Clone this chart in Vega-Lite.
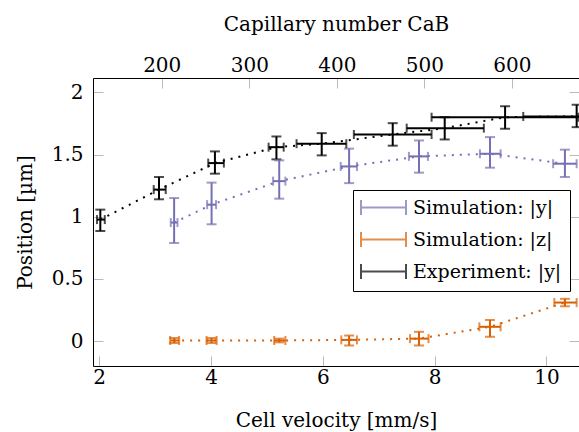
{
  "$schema": "https://vega.github.io/schema/vega-lite/v6.json",
  "width": 486,
  "height": 288,
  "autosize": "none",
  "padding": {"left": 93, "top": 78, "right": 0, "bottom": 66},
  "config": {
    "view": {"stroke": null},
    "font": "DejaVu Serif",
    "axis": {
      "labelFont": "DejaVu Serif", "labelFontSize": 20, "labelColor": "black",
      "titleFont": "DejaVu Serif", "titleFontSize": 20, "titleFontWeight": "normal", "titleColor": "black",
      "grid": false, "domainColor": "black", "domainWidth": 1, "tickColor": "#bbbbbb", "tickWidth": 1, "tickSize": -10
    },
    "legend": {
      "labelFont": "DejaVu Serif", "labelFontSize": 19, "labelColor": "black", "labelLimit": 400
    }
  },
  "datasets": {
    "pts": [
      {"s": "Simulation: |y|", "v": 3.34, "y": 0.953, "ylo": 0.789, "yhi": 1.15, "vlo": 3.28, "vhi": 3.40},
      {"s": "Simulation: |y|", "v": 4.01, "y": 1.097, "ylo": 0.939, "yhi": 1.274, "vlo": 3.93, "vhi": 4.09},
      {"s": "Simulation: |y|", "v": 5.22, "y": 1.286, "ylo": 1.145, "yhi": 1.453, "vlo": 5.11, "vhi": 5.33},
      {"s": "Simulation: |y|", "v": 6.47, "y": 1.404, "ylo": 1.27, "yhi": 1.547, "vlo": 6.32, "vhi": 6.61},
      {"s": "Simulation: |y|", "v": 7.72, "y": 1.485, "ylo": 1.354, "yhi": 1.613, "vlo": 7.54, "vhi": 7.88},
      {"s": "Simulation: |y|", "v": 8.99, "y": 1.506, "ylo": 1.394, "yhi": 1.64, "vlo": 8.81, "vhi": 9.18},
      {"s": "Simulation: |y|", "v": 10.33, "y": 1.426, "ylo": 1.319, "yhi": 1.539, "vlo": 10.12, "vhi": 10.54},
      {"s": "Simulation: |z|", "v": 3.34, "y": 0.005, "ylo": -0.015, "yhi": 0.025, "vlo": 3.27, "vhi": 3.43},
      {"s": "Simulation: |z|", "v": 4.01, "y": 0.005, "ylo": -0.015, "yhi": 0.025, "vlo": 3.92, "vhi": 4.10},
      {"s": "Simulation: |z|", "v": 5.22, "y": 0.005, "ylo": -0.01, "yhi": 0.02, "vlo": 5.13, "vhi": 5.33},
      {"s": "Simulation: |z|", "v": 6.47, "y": 0.01, "ylo": -0.035, "yhi": 0.045, "vlo": 6.33, "vhi": 6.61},
      {"s": "Simulation: |z|", "v": 7.72, "y": 0.02, "ylo": -0.035, "yhi": 0.075, "vlo": 7.56, "vhi": 7.89},
      {"s": "Simulation: |z|", "v": 8.99, "y": 0.115, "ylo": 0.035, "yhi": 0.17, "vlo": 8.80, "vhi": 9.18},
      {"s": "Simulation: |z|", "v": 10.33, "y": 0.31, "ylo": 0.28, "yhi": 0.34, "vlo": 10.14, "vhi": 10.54},
      {"s": "Experiment: |y|", "v": 2.02, "y": 0.977, "ylo": 0.885, "yhi": 1.057, "vlo": 1.96, "vhi": 2.10},
      {"s": "Experiment: |y|", "v": 3.07, "y": 1.218, "ylo": 1.14, "yhi": 1.319, "vlo": 2.975, "vhi": 3.19},
      {"s": "Experiment: |y|", "v": 4.07, "y": 1.431, "ylo": 1.346, "yhi": 1.525, "vlo": 3.95, "vhi": 4.23},
      {"s": "Experiment: |y|", "v": 5.17, "y": 1.559, "ylo": 1.461, "yhi": 1.645, "vlo": 5.03, "vhi": 5.30},
      {"s": "Experiment: |y|", "v": 5.98, "y": 1.587, "ylo": 1.493, "yhi": 1.672, "vlo": 5.53, "vhi": 6.42},
      {"s": "Experiment: |y|", "v": 7.25, "y": 1.661, "ylo": 1.571, "yhi": 1.752, "vlo": 6.555, "vhi": 7.945},
      {"s": "Experiment: |y|", "v": 8.18, "y": 1.712, "ylo": 1.621, "yhi": 1.80, "vlo": 7.50, "vhi": 8.88},
      {"s": "Experiment: |y|", "v": 9.26, "y": 1.80, "ylo": 1.707, "yhi": 1.888, "vlo": 7.945, "vhi": 10.57},
      {"s": "Experiment: |y|", "v": 10.54, "y": 1.806, "ylo": 1.72, "yhi": 1.90, "vlo": 9.585, "vhi": 11.5}
    ],
    "top": [{"ca": 121.5}, {"ca": 676.6}]
  },
  "layer": [
    {
      "data": {"name": "top"},
      "mark": {"type": "point", "opacity": 0},
      "encoding": {
        "x": {"field": "ca", "type": "quantitative",
              "scale": {"domain": [121.5, 676.6], "nice": false, "zero": false},
              "axis": {"orient": "top", "values": [200, 300, 400, 500, 600], "title": "Capillary number CaB",
                       "labelPadding": 13, "titleY": -48, "titleBaseline": "alphabetic", "labelFlush": false}}
      }
    },
    {
      "data": {"name": "pts"},
      "resolve": {"axis": {"y": "independent"}},
      "layer": [
        {
          "mark": {"type": "line", "strokeDash": [2, 6], "strokeWidth": 2, "clip": true},
          "encoding": {
            "x": {"field": "v", "type": "quantitative",
                  "scale": {"domain": [1.889, 10.582], "nice": false, "zero": false},
                  "axis": {"orient": "bottom", "values": [2, 4, 6, 8, 10], "format": "~g", "title": "Cell velocity [mm/s]",
                           "labelPadding": 11, "titleY": 60, "titleBaseline": "alphabetic", "labelFlush": false}},
            "y": {"field": "y", "type": "quantitative",
                  "scale": {"domain": [-0.2, 2.115], "nice": false, "zero": false},
                  "axis": {"orient": "left", "values": [0, 0.5, 1, 1.5, 2], "format": "~g", "title": "Position [µm]",
                           "labelPadding": 20, "titleX": -62, "titleBaseline": "alphabetic"}},
            "color": {"field": "s", "type": "nominal",
                      "scale": {"domain": ["Simulation: |y|", "Simulation: |z|", "Experiment: |y|"],
                                "range": ["#7570b3", "#d95f02", "#000000"]},
                      "legend": {"orient": "none", "legendX": 260, "legendY": 112, "title": null,
                                 "strokeColor": "black", "fillColor": "white", "padding": 8,
                                 "symbolType": "M-3,-1L-3,1M-3,0L3,0M3,-1L3,1",
                                 "symbolSize": 225, "symbolStrokeWidth": 2, "symbolDash": [1, 0],
                                 "symbolOffset": 13, "labelOffset": 20, "rowPadding": 9}},
            "detail": {"field": "s"}
          }
        },
        {
          "mark": {"type": "rule", "strokeWidth": 2, "clip": true},
          "encoding": {
            "x": {"field": "v", "type": "quantitative"},
            "y": {"field": "ylo", "type": "quantitative",
                  "axis": {"orient": "right", "values": [0, 0.5, 1, 1.5, 2], "labels": false, "domain": false, "title": null}},
            "y2": {"field": "yhi"},
            "color": {"field": "s", "type": "nominal"}
          }
        },
        {
          "mark": {"type": "rule", "strokeWidth": 2, "clip": true},
          "encoding": {
            "x": {"field": "vlo", "type": "quantitative"},
            "x2": {"field": "vhi"},
            "y": {"field": "y", "type": "quantitative", "axis": null},
            "color": {"field": "s", "type": "nominal"}
          }
        },
        {
          "mark": {"type": "tick", "orient": "horizontal", "size": 10, "thickness": 2, "clip": true},
          "encoding": {
            "x": {"field": "v", "type": "quantitative"},
            "y": {"field": "ylo", "type": "quantitative", "axis": null},
            "color": {"field": "s", "type": "nominal"}
          }
        },
        {
          "mark": {"type": "tick", "orient": "horizontal", "size": 10, "thickness": 2, "clip": true},
          "encoding": {
            "x": {"field": "v", "type": "quantitative"},
            "y": {"field": "yhi", "type": "quantitative", "axis": null},
            "color": {"field": "s", "type": "nominal"}
          }
        },
        {
          "mark": {"type": "tick", "orient": "vertical", "size": 9, "thickness": 2, "clip": true},
          "encoding": {
            "x": {"field": "vlo", "type": "quantitative"},
            "y": {"field": "y", "type": "quantitative", "axis": null},
            "color": {"field": "s", "type": "nominal"}
          }
        },
        {
          "mark": {"type": "tick", "orient": "vertical", "size": 9, "thickness": 2, "clip": true},
          "encoding": {
            "x": {"field": "vhi", "type": "quantitative"},
            "y": {"field": "y", "type": "quantitative", "axis": null},
            "color": {"field": "s", "type": "nominal"}
          }
        }
      ]
    }
  ],
  "resolve": {"scale": {"x": "independent"}, "axis": {"x": "independent"}}
}
